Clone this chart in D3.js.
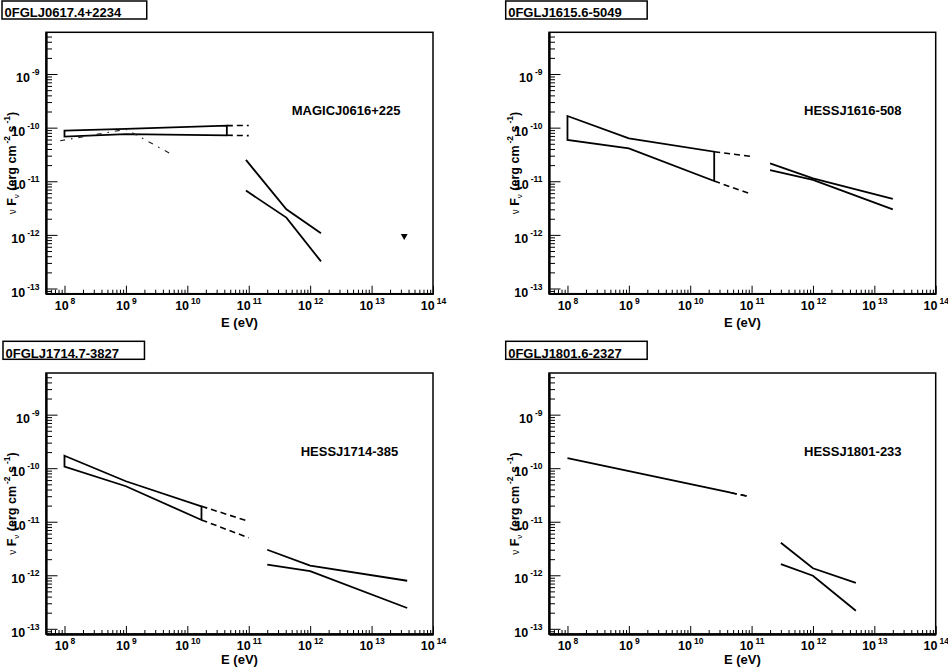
<!DOCTYPE html>
<html lang="en">
<head>
<meta charset="utf-8">
<title>Fermi / TeV spectra</title>
<script src="https://cdnjs.cloudflare.com/ajax/libs/d3/7.8.5/d3.min.js"></script>
<style>
  body { margin: 0; background: #fff; }
  text { font-family: "Liberation Sans", Arial, Helvetica, sans-serif; font-weight: bold; fill: #000; }
</style>
</head>
<body>
<script>
// names of the four panels
var titles = ["0FGLJ0617.4+2234", "0FGLJ1615.6-5049", "0FGLJ1714.7-3827", "0FGLJ1801.6-2327"];
var sources = ["MAGICJ0616+225", "HESSJ1616-508", "HESSJ1714-385", "HESSJ1801-233"];

// axis ranges and tick labels (same for all panels)
var xRange = [5e7, 1e14];
var yRange = [8e-14, 6e-9];
var xDecades = [1e8, 1e9, 1e10, 1e11, 1e12, 1e13, 1e14];
var yDecades = [1e-13, 1e-12, 1e-11, 1e-10, 1e-9];

// Fermi butterflies: energy, upper edge, lower edge (per panel)
var fermiE  = [[1e8, 1e9, 4.4e10], [1e8, 1e9, 2.46e10], [1e8, 1e9, 1.7e10], [1e8, 4.6e10]];
var fermiHi = [[8.8e-11, 9.5e-11, 1.09e-10], [1.65e-10, 6.3e-11, 3.56e-11], [1.71e-10, 5.7e-11, 1.94e-11], [1.55e-10, 3.48e-11]];
var fermiLo = [[6.8e-11, 7.6e-11, 7.2e-11], [5.9e-11, 4.1e-11, 1.01e-11], [1.07e-10, 4.6e-11, 1.08e-11], [1.55e-10, 3.48e-11]];

// dashed extrapolation of the Fermi butterfly
var extE  = [[4.4e10, 1e11], [2.46e10, 1e11], [1.7e10, 1e11], [4.6e10, 9e10]];
var extHi = [[1.09e-10, 1.1e-10], [3.56e-11, 2.9e-11], [1.94e-11, 1.02e-11], [3.48e-11, 2.96e-11]];
var extLo = [[7.2e-11, 7.1e-11], [1.01e-11, 5.7e-12], [1.08e-11, 5.0e-12], [3.48e-11, 2.96e-11]];

// TeV butterflies
var tevE  = [[9e10, 4.1e11, 1.5e12], [2e11, 1e12, 2e13], [2e11, 1e12, 3.8e13], [3e11, 1e12, 5e12]];
var tevHi = [[2.5e-11, 3.0e-12, 1.07e-12], [2.16e-11, 1.13e-11, 4.67e-12], [3.0e-12, 1.51e-12, 7.9e-13], [4.06e-12, 1.35e-12, 7.2e-13]];
var tevLo = [[6.7e-12, 2.1e-12, 3.2e-13], [1.62e-11, 1.06e-11, 2.99e-12], [1.58e-12, 1.19e-12, 2.45e-13], [1.62e-12, 9.8e-13, 2.18e-13]];

// first panel only: dash-dotted spectrum and an upper limit
var curveE = [8.5e7, 1e9, 6.1e9];
var curveF = [5.7e-11, 9.3e-11, 3.0e-11];
var ulE = [3.4e13];
var ulF = [9.5e-13];

// layout
var frames = [
  {x: 46,  y: 32.3, w: 387,   h: 261.4},
  {x: 549, y: 32.3, w: 386.7, h: 261.4},
  {x: 46,  y: 373,  w: 387,   h: 261},
  {x: 549, y: 373,  w: 386.7, h: 261}
];
var boxes = [{x: 2, y: 1}, {x: 505.7, y: 1}, {x: 3, y: 341.3}, {x: 505.7, y: 341.3}];
var labelPos = [{x: 291.7, y: 114.5}, {x: 804, y: 114.5}, {x: 300.7, y: 456}, {x: 804, y: 456}];

var svg = d3.select("body").append("svg")
    .attr("width", 948)
    .attr("height", 668);

svg.append("rect").attr("width", 948).attr("height", 668).attr("fill", "#fff");

// minor ticks 2..9 per decade inside a range
function minorTicks(range) {
  var out = [];
  var lo = Math.floor(Math.log10(range[0])), hi = Math.ceil(Math.log10(range[1]));
  for (var d = lo; d < hi; d++) {
    for (var k = 2; k <= 9; k++) {
      var v = k * Math.pow(10, d);
      if (v >= range[0] && v <= range[1]) out.push(v);
    }
  }
  return out;
}

function powerLabel(sel, raise) {
  sel.each(function(d) {
    var t = d3.select(this), e = Math.round(Math.log10(d));
    t.text(null);
    t.append("tspan").text("10");
    t.append("tspan").attr("dx", 2).attr("dy", raise).attr("font-size", 8.5).text(e);
  });
}

titles.forEach(function(title, i) {
  var f = frames[i];
  var x = d3.scaleLog().domain(xRange).range([f.x, f.x + f.w]);
  var y = d3.scaleLog().domain(yRange).range([f.y + f.h, f.y]);
  var g = svg.append("g");

  // frame
  g.append("rect")
    .attr("x", f.x).attr("y", f.y).attr("width", f.w).attr("height", f.h)
    .attr("fill", "none").attr("stroke", "#000").attr("stroke-width", 1.5);

  // x axis, ticks pointing up
  var xg = g.append("g").attr("transform", "translate(0," + (f.y + f.h) + ")");
  xg.call(d3.axisBottom(x).tickValues(minorTicks(xRange)).tickSizeInner(-4).tickSizeOuter(0).tickFormat(""));
  var xm = g.append("g").attr("transform", "translate(0," + (f.y + f.h) + ")");
  xm.call(d3.axisBottom(x).tickValues(xDecades).tickSizeInner(-8).tickSizeOuter(0));
  xm.selectAll(".tick text")
    .attr("y", 16).attr("dy", null)
    .attr("font-size", 12.5)
    .call(powerLabel, -6);

  // y axis, ticks pointing right
  var yg = g.append("g").attr("transform", "translate(" + f.x + ",0)");
  yg.call(d3.axisLeft(y).tickValues(minorTicks(yRange)).tickSizeInner(-6).tickSizeOuter(0).tickFormat(""));
  var ym = g.append("g").attr("transform", "translate(" + f.x + ",0)");
  ym.call(d3.axisLeft(y).tickValues(yDecades).tickSizeInner(-11.5).tickSizeOuter(0));
  ym.selectAll(".tick text")
    .attr("x", -6.5).attr("y", 7.5).attr("dy", null)
    .attr("font-size", 12.5)
    .attr("text-anchor", "end")
    .call(powerLabel, -7);

  g.selectAll(".domain").attr("stroke", "#000").attr("stroke-width", 1.8);
  g.selectAll(".tick line").attr("stroke", "#000").attr("stroke-width", 1);
  g.selectAll(".tick text").attr("font-family", null).attr("fill", "#000");

  // axis titles
  g.append("text")
    .attr("x", f.x + f.w / 2).attr("y", Math.min(f.y + f.h + 33, 664))
    .attr("text-anchor", "middle").attr("font-size", 13)
    .text("E (eV)");

  var yt = g.append("text")
    .attr("transform", "translate(" + (f.x - 30.5) + "," + (f.y + f.h / 2) + ") rotate(-90)")
    .attr("text-anchor", "middle").attr("font-size", 12.5);
  yt.append("tspan").attr("font-weight", "normal").attr("font-size", 10).text("\u03bd");
  yt.append("tspan").text(" F");
  yt.append("tspan").attr("font-weight", "normal").attr("font-size", 8).attr("dy", 3).text("\u03bd");
  yt.append("tspan").attr("dy", -3).text(" (erg cm");
  yt.append("tspan").attr("font-size", 8.5).attr("dy", -6).attr("dx", 2).text("-2");
  yt.append("tspan").attr("dy", 6).text(" s");
  yt.append("tspan").attr("font-size", 8.5).attr("dy", -6).attr("dx", 2).text("-1");
  yt.append("tspan").attr("dy", 6).text(")");

  // title box
  var b = boxes[i];
  var tt = g.append("text")
    .attr("x", b.x + 2.5).attr("y", b.y + 16.3)
    .attr("font-size", 13)
    .text(title);
  var tw = tt.node().getComputedTextLength();
  g.insert("rect", function() { return tt.node(); })
    .attr("x", b.x).attr("y", b.y).attr("width", tw + 28).attr("height", 18)
    .attr("fill", "#fff").attr("stroke", "#000").attr("stroke-width", 1.5);

  // source label
  g.append("text")
    .attr("x", labelPos[i].x).attr("y", labelPos[i].y)
    .attr("font-size", 13)
    .text(sources[i]);

  var line = d3.line().x(function(d) { return x(d[0]); }).y(function(d) { return y(d[1]); });
  var zip = function(a, b) { return a.map(function(v, k) { return [v, b[k]]; }); };

  // Fermi butterfly as closed outline
  var hi = zip(fermiE[i], fermiHi[i]), lo = zip(fermiE[i], fermiLo[i]).reverse();
  g.append("path")
    .attr("d", line(hi.concat(lo)) + "Z")
    .attr("fill", "none").attr("stroke", "#000").attr("stroke-width", 1.8);

  // dashed extrapolation
  [extHi[i], extLo[i]].forEach(function(fv) {
    g.append("path")
      .attr("d", line(zip(extE[i], fv)))
      .attr("fill", "none").attr("stroke", "#000").attr("stroke-width", 1.6)
      .attr("stroke-dasharray", "6,4");
  });

  // TeV butterfly edges
  [tevHi[i], tevLo[i]].forEach(function(fv) {
    g.append("path")
      .attr("d", line(zip(tevE[i], fv)))
      .attr("fill", "none").attr("stroke", "#000").attr("stroke-width", 1.8);
  });

  if (i === 0) {
    g.append("path")
      .attr("d", line(zip(curveE, curveF)))
      .attr("fill", "none").attr("stroke", "#222").attr("stroke-width", 1.2)
      .attr("stroke-dasharray", "5,6,1.5,6");

    g.selectAll(".ul").data(zip(ulE, ulF)).enter().append("path")
      .attr("class", "ul")
      .attr("transform", function(d) { return "translate(" + x(d[0]) + "," + y(d[1]) + ") rotate(180)"; })
      .attr("d", d3.symbol().type(d3.symbolTriangle).size(20))
      .attr("fill", "#000");
  }
});
</script>
</body>
</html>
